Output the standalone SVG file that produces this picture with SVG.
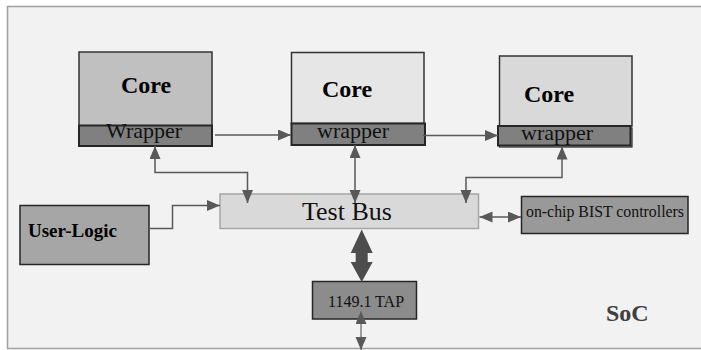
<svg xmlns="http://www.w3.org/2000/svg" width="701" height="350" viewBox="0 0 701 350">
<defs>
<style>
.core{stroke:#333;stroke-width:1.5}
.wrap{fill:#808080;stroke:#262626;stroke-width:2}
.box{stroke:#262626;stroke-width:1.5}
.bold{font-family:"Liberation Serif",serif;font-weight:bold;fill:#000}
.reg{font-family:"Liberation Serif",serif;fill:#111}
.con{fill:none;stroke:#595959;stroke-width:1.5}
</style>
<marker id="ah" markerUnits="userSpaceOnUse" markerWidth="14" markerHeight="12" refX="13" refY="5.5" orient="auto-start-reverse" viewBox="0 0 14 12">
<path d="M0,0 L13,5.5 L0,11 z" fill="#595959"/>
</marker>
<marker id="ah2" markerUnits="userSpaceOnUse" markerWidth="14" markerHeight="12" refX="13" refY="5.5" orient="auto-start-reverse" viewBox="0 0 14 12">
<path d="M0,0 L13,5.5 L0,11 z" fill="#595959"/>
</marker>
</defs>
<rect x="7.5" y="6.5" width="700" height="342" fill="#f2f2f2" stroke="#a0a0a0" stroke-width="1.5"/>

<g id="core1">
<rect class="core" x="79" y="52" width="133" height="74" fill="#c0c0c0"/>
<rect class="wrap" x="79" y="125.5" width="133" height="20.5"/>
<text class="bold" x="121" y="93" font-size="24">Core</text>
<text class="reg" x="106" y="138" font-size="22">Wrapper</text>
</g>

<g id="core2">
<rect class="core" x="291.5" y="52.5" width="132.5" height="71" fill="#e6e6e6"/>
<rect class="wrap" x="291.5" y="123.5" width="133.5" height="21.5"/>
<text class="bold" x="322" y="96.5" font-size="24">Core</text>
<text class="reg" x="317" y="137.5" font-size="22">wrapper</text>
</g>

<g id="core3">
<rect class="core" x="499.5" y="56" width="132.5" height="70" fill="#d9d9d9"/>
<rect x="499.5" y="128" width="132.5" height="19" fill="none" stroke="#262626" stroke-width="1.2"/>
<rect class="wrap" x="498" y="126" width="132.5" height="19.5"/>
<text class="bold" x="524" y="102" font-size="24">Core</text>
<text class="reg" x="521" y="140" font-size="22">wrapper</text>
</g>

<g id="testbus">
<rect x="220" y="194" width="258.5" height="34.5" fill="#d9d9d9" stroke="#a6a6a6" stroke-width="1.5"/>
<text class="reg" x="302" y="220" font-size="26">Test Bus</text>
</g>

<g id="userlogic">
<rect class="box" x="20" y="205.5" width="129" height="59" fill="#a6a6a6"/>
<text class="bold" x="28" y="236.5" font-size="19" fill="#1a1a1a">User-Logic</text>
</g>

<g id="bist">
<rect class="box" x="521.5" y="196.5" width="166.5" height="37" fill="#999999"/>
<text class="reg" x="526" y="217" font-size="16" textLength="158" lengthAdjust="spacingAndGlyphs">on-chip BIST controllers</text>
</g>

<g id="tap">
<rect class="box" x="312.5" y="281.5" width="104" height="37.5" fill="#8c8c8c"/>
<text class="reg" x="328" y="307" font-size="16">1149.1 TAP</text>
</g>

<text id="soc" class="bold" x="606" y="321" font-size="24" fill="#404040" style="fill:#404040">SoC</text>

<g id="connectors">
<path class="con" d="M215,135 H291" marker-end="url(#ah)"/>
<path class="con" d="M423,135.5 H498" marker-end="url(#ah)"/>
<path class="con" d="M155,146 V172.5 H247.5 V203" marker-start="url(#ah)" marker-end="url(#ah)"/>
<path class="con" d="M355,145 V203" marker-start="url(#ah)" marker-end="url(#ah)"/>
<path class="con" d="M562,146.5 V177.5 H466 V203" marker-start="url(#ah)" marker-end="url(#ah)"/>
<path class="con" d="M149,228.5 H172.5 V205.5 H220" marker-end="url(#ah)"/>
<path class="con" d="M479.5,217 H521" marker-start="url(#ah)" marker-end="url(#ah)"/>
<polygon points="361.7,229.5 372.7,253 367.7,253 367.7,262 372.7,262 361.7,282 350.7,262 355.7,262 355.7,253 350.7,253" fill="#4d4d4d"/>
<path d="M361,311 V350" fill="none" stroke="#808080" stroke-width="1.5" marker-start="url(#ah)" marker-end="url(#ah)"/>
</g>
</svg>
